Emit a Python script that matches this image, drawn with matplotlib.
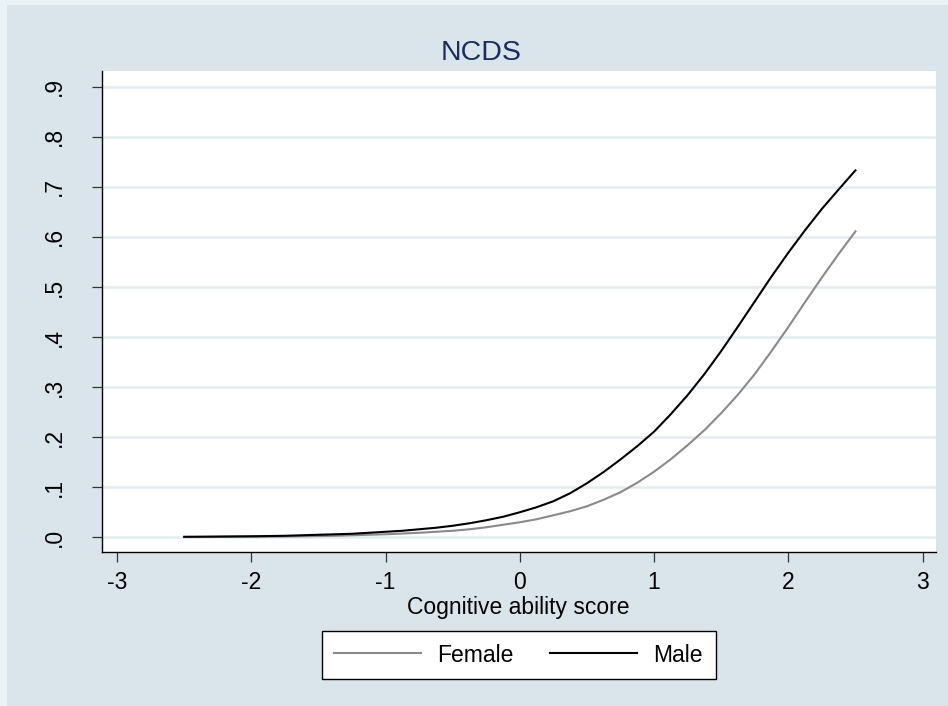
import matplotlib
matplotlib.use("Agg")
import matplotlib.pyplot as plt
from matplotlib.patches import Rectangle

plt.rcParams['font.family'] = ['Liberation Sans', 'DejaVu Sans']

# Predicted probability by cognitive ability score
score = [-2.5, -2.375, -2.25, -2.125, -2.0, -1.875, -1.75, -1.625, -1.5, -1.375,
         -1.25, -1.125, -1.0, -0.875, -0.75, -0.625, -0.5, -0.375, -0.25, -0.125,
         0.0, 0.125, 0.25, 0.375, 0.5, 0.625, 0.75, 0.875, 1.0, 1.125,
         1.25, 1.375, 1.5, 1.625, 1.75, 1.875, 2.0, 2.125, 2.25, 2.375, 2.5]
female = [0.0004, 0.0005, 0.0006, 0.0008, 0.001, 0.0012, 0.0015, 0.002, 0.0025, 0.003,
          0.004, 0.005, 0.006, 0.0075, 0.009, 0.011, 0.013, 0.016, 0.020, 0.025,
          0.030, 0.036, 0.044, 0.052, 0.062, 0.075, 0.090, 0.109, 0.131, 0.156,
          0.184, 0.214, 0.248, 0.285, 0.326, 0.372, 0.420, 0.470, 0.519, 0.566, 0.611]
male = [0.001, 0.0012, 0.0015, 0.0018, 0.002, 0.0025, 0.003, 0.004, 0.005, 0.006,
        0.007, 0.009, 0.011, 0.013, 0.016, 0.019, 0.023, 0.028, 0.034, 0.041,
        0.050, 0.060, 0.072, 0.088, 0.108, 0.1305, 0.1555, 0.182, 0.211, 0.246,
        0.284, 0.326, 0.372, 0.421, 0.471, 0.521, 0.5685, 0.6135, 0.656, 0.6948, 0.733]

xticks = [-3, -2, -1, 0, 1, 2, 3]
yticks = [0.0, 0.1, 0.2, 0.3, 0.4, 0.5, 0.6, 0.7, 0.8, 0.9]
ytick_labels = [".0", ".1", ".2", ".3", ".4", ".5", ".6", ".7", ".8", ".9"]

W, H = 948, 706
BG = '#d9e5eb'
GRID = '#e3ecf0'
TXT = 16.5

fig = plt.figure(figsize=(W / 100, H / 100), dpi=100)
fig.patch.set_facecolor('#edf2f5')
fig.patches.append(Rectangle((7 / W, 0), 1 - 7 / W, 1 - 5 / H,
                             transform=fig.transFigure, facecolor=BG,
                             edgecolor='none', zorder=-10))

left, right, top, bottom = 102.3, 936, 70.7, 552.3
ax = fig.add_axes([left / W, 1 - bottom / H, (right - left) / W, (bottom - top) / H])
ax.set_zorder(1)
ax.set_facecolor('white')

ax.plot(score, female, color='#8a8a8a', lw=1.5, label='Female', zorder=3)
ax.plot(score, male, color='black', lw=1.5, label='Male', zorder=3)

ax.set_xlim(-3.11, 3.1)
ax.set_ylim(-0.0300, 0.932)
ax.set_xticks(xticks)
ax.set_xticklabels([str(t) for t in xticks])
ax.set_yticks(yticks)
ax.set_yticklabels(ytick_labels, rotation=90, va='center')

for y in yticks:
    ax.axhline(y, color=GRID, lw=1.8, zorder=1)

for s in ['top', 'right']:
    ax.spines[s].set_visible(False)
for s in ['left', 'bottom']:
    ax.spines[s].set_color('black')
    ax.spines[s].set_linewidth(1.0)

ax.tick_params(axis='both', direction='out', length=7.2, width=0.9,
               color='#333333', labelsize=TXT, labelcolor='black')
ax.tick_params(axis='x', pad=6)
ax.tick_params(axis='y', pad=19)

fig.text(481 / W, 1 - 60 / H, 'NCDS', ha='center', va='baseline',
         fontsize=20.5, color='#1c2d5c')
fig.text(518 / W, 1 - 614 / H, 'Cognitive ability score', ha='center',
         va='baseline', fontsize=TXT, color='black')

leg = fig.legend(loc='center', bbox_to_anchor=(518.5 / W, 1 - 655 / H),
                 ncol=2, fontsize=TXT, frameon=True, fancybox=False,
                 handlelength=3.8, handletextpad=0.7, columnspacing=1.6,
                 borderpad=0.55, borderaxespad=0)
leg.get_frame().set_edgecolor('black')
leg.get_frame().set_linewidth(1.0)
leg.get_frame().set_facecolor('white')
leg.get_frame().set_alpha(1)

fig.savefig('out.png', dpi=100, facecolor=fig.get_facecolor())
